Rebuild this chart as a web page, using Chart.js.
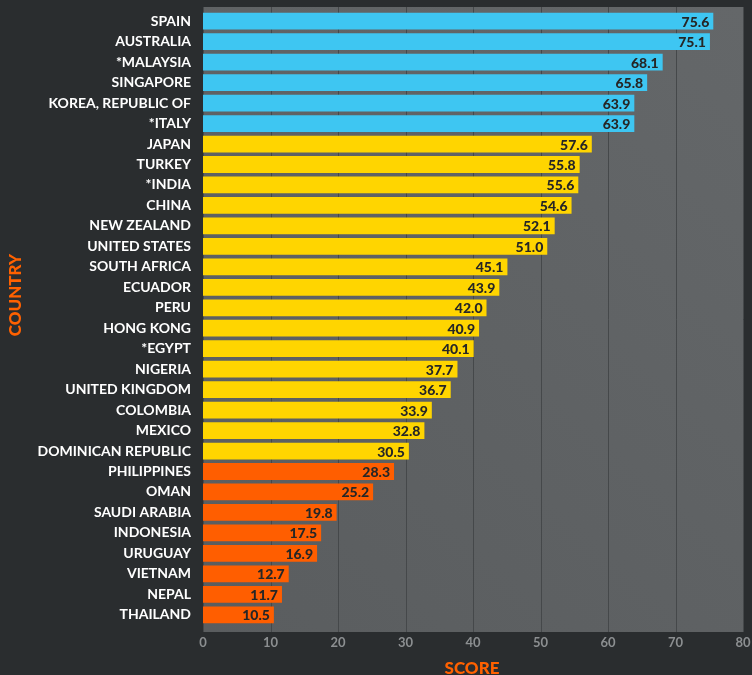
<!DOCTYPE html>
<html>
<head>
<meta charset="utf-8">
<script src="https://cdn.jsdelivr.net/npm/chart.js@4/dist/chart.umd.min.js"></script>
<style>
  html, body { margin: 0; padding: 0; background: #2a2d2f; }
  #wrap { width: 752px; height: 675px; }
</style>
</head>
<body>
<div id="wrap"><canvas id="myChart" width="752" height="675"></canvas></div>
<script>
const countries = ['SPAIN', 'AUSTRALIA', '*MALAYSIA', 'SINGAPORE', 'KOREA, REPUBLIC OF', '*ITALY',
  'JAPAN', 'TURKEY', '*INDIA', 'CHINA', 'NEW ZEALAND', 'UNITED STATES', 'SOUTH AFRICA', 'ECUADOR',
  'PERU', 'HONG KONG', '*EGYPT', 'NIGERIA', 'UNITED KINGDOM', 'COLOMBIA', 'MEXICO',
  'DOMINICAN REPUBLIC', 'PHILIPPINES', 'OMAN', 'SAUDI ARABIA', 'INDONESIA', 'URUGUAY',
  'VIETNAM', 'NEPAL', 'THAILAND']
const scores = [75.6, 75.1, 68.1, 65.8, 63.9, 63.9,
  57.6, 55.8, 55.6, 54.6, 52.1, 51.0, 45.1, 43.9,
  42.0, 40.9, 40.1, 37.7, 36.7, 33.9, 32.8,
  30.5, 28.3, 25.2, 19.8, 17.5, 16.9,
  12.7, 11.7, 10.5]
const xTicks = [0, 10, 20, 30, 40, 50, 60, 70, 80]

const FONT = 'Lato'
const barColor = v => v > 60 ? '#3ec6f2' : (v >= 30 ? '#ffd500' : '#ff5e00')

// plot background + vertical grid, drawn a bit beyond the category band
const plotBg = {
  id: 'plotBg',
  beforeDatasetsDraw (chart) {
    const { ctx, chartArea: a, scales } = chart
    const top = a.top - 4
    const bottom = a.bottom + 7
    ctx.save()
    const g = ctx.createLinearGradient(a.left, bottom, a.right, top)
    g.addColorStop(0, '#5a5d5f')
    g.addColorStop(1, '#646769')
    ctx.fillStyle = g
    ctx.fillRect(a.left, top, a.right - a.left, bottom - top)
    ctx.strokeStyle = '#45484a'
    ctx.lineWidth = 1
    xTicks.forEach(t => {
      const x = Math.round(scales.x.getPixelForValue(t)) + 0.5
      ctx.beginPath()
      ctx.moveTo(x, top)
      ctx.lineTo(x, bottom)
      ctx.stroke()
    })
    ctx.restore()
  }
}

// value labels at the bar ends + axis titles
const labels = {
  id: 'labels',
  afterDatasetsDraw (chart) {
    const { ctx } = chart
    const meta = chart.getDatasetMeta(0)
    ctx.save()
    ctx.font = `900 14px ${FONT}`
    ctx.fillStyle = '#262626'
    ctx.textAlign = 'right'
    ctx.textBaseline = 'middle'
    meta.data.forEach((bar, i) => {
      ctx.fillText(scores[i].toFixed(1), bar.x - 4, bar.y + 1)
    })
    ctx.fillStyle = '#ff6100'
    ctx.font = `900 17px ${FONT}`
    ctx.textAlign = 'center'
    ctx.fillText('SCORE', 472, 669)
    ctx.translate(16, 295)
    ctx.rotate(-Math.PI / 2)
    ctx.fillText('COUNTRY', 0, 0)
    ctx.restore()
  }
}

const myChartRef = document.getElementById('myChart').getContext('2d')

new Chart(myChartRef, {
  type: 'bar',
  data: {
    labels: countries,
    datasets: [
      {
        label: 'Score',
        data: scores,
        backgroundColor: scores.map(barColor),
        barPercentage: 0.82,
        categoryPercentage: 1
      }
    ]
  },
  options: {
    indexAxis: 'y',
    responsive: false,
    animation: false,
    layout: { padding: { top: 11, right: 9, left: 0, bottom: 0 } },
    plugins: {
      legend: { display: false },
      tooltip: { enabled: false }
    },
    scales: {
      x: {
        min: 0,
        max: 80,
        afterBuildTicks: scale => { scale.ticks = xTicks.map(v => ({ value: v })) },
        grid: { display: false, drawTicks: false },
        border: { display: false },
        ticks: { color: '#8c8f91', font: { family: FONT, size: 13, weight: 'bold' }, padding: 10 },
        afterFit: scale => {
          scale.height = 50
          scale.paddingLeft = 0
          scale.paddingRight = 0
        }
      },
      y: {
        grid: { display: false, drawTicks: false },
        border: { display: false },
        ticks: { color: '#ffffff', font: { family: FONT, size: 14, weight: 'bold' }, padding: 12, autoSkip: false },
        afterFit: scale => {
          scale.width = 203
          scale.paddingTop = 0
          scale.paddingBottom = 0
        }
      }
    }
  },
  plugins: [plotBg, labels]
})
</script>
</body>
</html>
